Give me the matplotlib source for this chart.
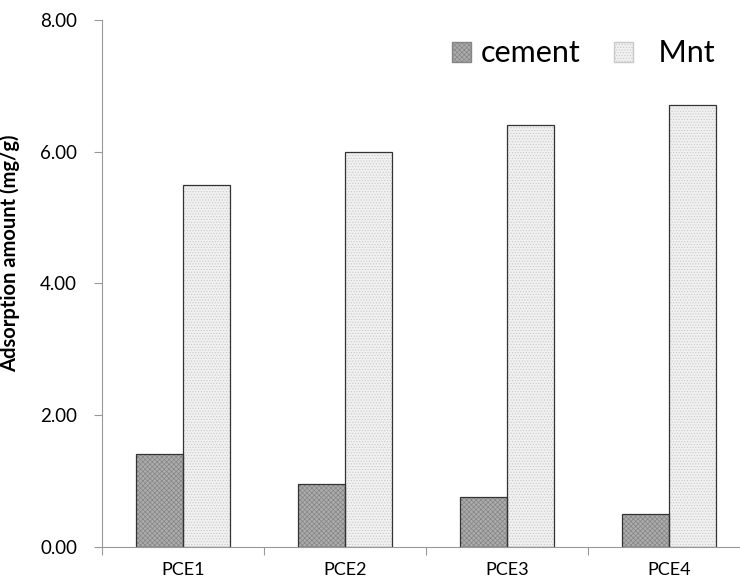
import matplotlib.pyplot as plt
from matplotlib.patches import Patch
import numpy as np

plt.rcParams['font.family'] = ['Lato', 'DejaVu Sans']
plt.rcParams['hatch.linewidth'] = 0.5

# data
categories = ["PCE1", "PCE2", "PCE3", "PCE4"]
cement = [1.41, 0.96, 0.76, 0.50]
mnt = [5.50, 6.00, 6.40, 6.70]
y_ticks = [0, 2, 4, 6, 8]

CEMENT_FACE, CEMENT_HATCH = "#acacac", "#858585"
MNT_FACE, MNT_HATCH = "#f1f1f1", "#c8c8c8"

fig = plt.figure(figsize=(7.4, 5.83), dpi=100)
ax = fig.add_axes([0.138, 0.062, 0.876, 0.904])

x = np.arange(len(categories)) + 0.5
w = 0.29

# hatched fill first, then a dark outline on top
ax.bar(x - w / 2, cement, w, color=CEMENT_FACE, edgecolor=CEMENT_HATCH,
       hatch="xxxxxxx", linewidth=0)
ax.bar(x + w / 2, mnt, w, color=MNT_FACE, edgecolor=MNT_HATCH,
       hatch="......", linewidth=0)
ax.bar(x - w / 2, cement, w, fill=False, edgecolor="#333333", linewidth=0.9)
ax.bar(x + w / 2, mnt, w, fill=False, edgecolor="#333333", linewidth=0.9)

ax.set_xlim(0, 4)
ax.set_ylim(0, 8)
ax.set_yticks(y_ticks)
ax.set_yticklabels([f"{v:.2f}" for v in y_ticks], fontsize=13.5)
ax.set_xticks(np.arange(0, 5))
ax.set_xticklabels([])
ax.set_xticks(x, minor=True)
ax.set_xticklabels(categories, minor=True, fontsize=13)
ax.tick_params(axis="x", which="minor", length=0, pad=11)
ax.tick_params(axis="x", which="major", length=6, color="#999999")
ax.tick_params(axis="y", length=6, color="#999999", pad=12)

for side in ("top", "right"):
    ax.spines[side].set_visible(False)
for side in ("left", "bottom"):
    ax.spines[side].set_color("#999999")

ax.set_ylabel("Adsorption amount (mg/g)", fontsize=14.5, fontweight="bold")
ax.yaxis.set_label_coords(-0.127, 0.558)

handles = [Patch(facecolor=CEMENT_FACE, edgecolor=CEMENT_HATCH, hatch="xxxxxxx"),
           Patch(facecolor=MNT_FACE, edgecolor=MNT_HATCH, hatch="......")]
ax.legend(handles, ["cement", "  Mnt"], loc="upper left", bbox_to_anchor=(0.497, 1.015),
          ncol=2, frameon=False, fontsize=22, handlelength=0.62, handleheight=0.62,
          handletextpad=0.33, columnspacing=1.1)

fig.savefig("out.png", dpi=100)
